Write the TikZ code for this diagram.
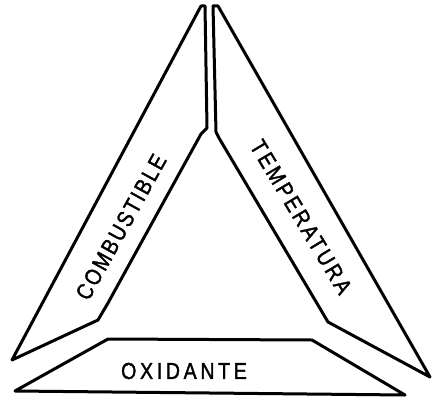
\documentclass[tikz,border=0pt]{standalone}
\usepackage{fontspec}
\setmainfont{Liberation Sans}
\newfontfamily\lettering[FakeStretch=0.85, FakeBold=1.5]{Liberation Sans}

\begin{document}
\begin{tikzpicture}[
    x=1pt, y=-1pt,
    piece/.style = {draw=black, line width=3pt, line join=round},
    side/.style  = {font=\lettering\fontsize{23}{23}\selectfont
                    \addfontfeatures{LetterSpace=#1}, inner sep=0pt},
]
\useasboundingbox (0,0) rectangle (438,409);

% the three sides of the triangle
\draw[piece] (201,6) -- (205,6) -- (207,128) -- (201,134) -- (108,303)
             -- (98,320) -- (12,360) -- cycle;
\draw[piece] (213,6) -- (218,6) -- (430,377) -- (328,322) -- (219,138)
             -- (216,132) -- cycle;
\draw[piece] (108,339) -- (312,340) -- (405,395) -- (15,391) -- cycle;

\node[side=9.5, rotate=61]  (comb) at (121,227) {COMBUSTIBLE};
\node[side=12.5, rotate=-59] (temp) at (301,217) {TEMPERATURA};
\node[side=16]              (oxid) at (184,371) {OXIDANTE};
\end{tikzpicture}
\end{document}
